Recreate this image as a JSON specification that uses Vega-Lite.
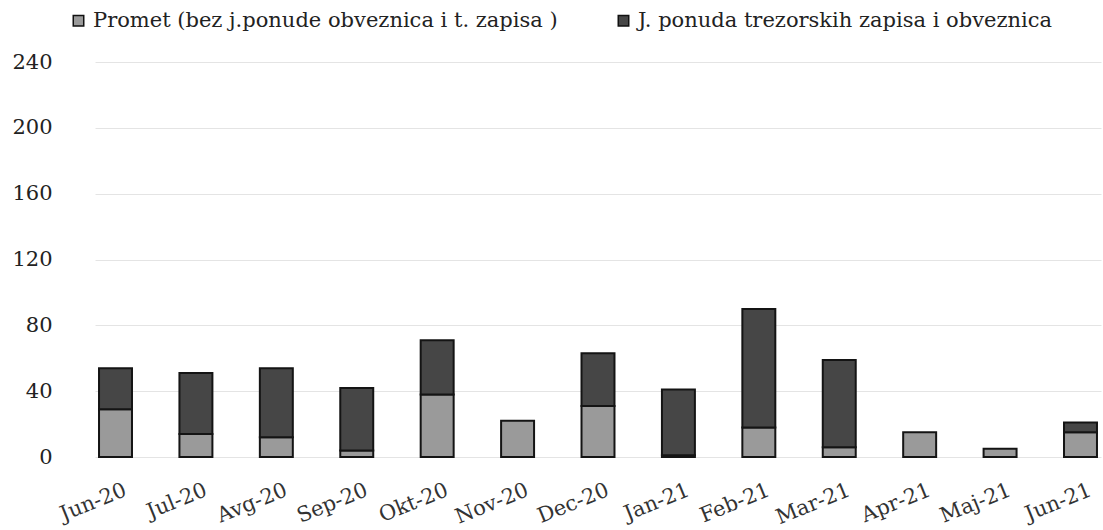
{
  "$schema": "https://vega.github.io/schema/vega-lite/v6.json",
  "autosize": {"type": "none"},
  "padding": {"left": 95, "top": 62, "right": 2, "bottom": 73},
  "width": 1006,
  "height": 395,
  "background": "white",
  "config": {
    "view": {"stroke": null},
    "font": "DejaVu Serif"
  },
  "data": {
    "values": [
      {"mjesec": "Jun-20", "serija": "Promet (bez j.ponude obveznica i t. zapisa )", "red": 1, "vrijednost": 29},
      {"mjesec": "Jun-20", "serija": "J. ponuda  trezorskih zapisa i obveznica", "red": 2, "vrijednost": 25},
      {"mjesec": "Jul-20", "serija": "Promet (bez j.ponude obveznica i t. zapisa )", "red": 1, "vrijednost": 14},
      {"mjesec": "Jul-20", "serija": "J. ponuda  trezorskih zapisa i obveznica", "red": 2, "vrijednost": 37},
      {"mjesec": "Avg-20", "serija": "Promet (bez j.ponude obveznica i t. zapisa )", "red": 1, "vrijednost": 12},
      {"mjesec": "Avg-20", "serija": "J. ponuda  trezorskih zapisa i obveznica", "red": 2, "vrijednost": 42},
      {"mjesec": "Sep-20", "serija": "Promet (bez j.ponude obveznica i t. zapisa )", "red": 1, "vrijednost": 4},
      {"mjesec": "Sep-20", "serija": "J. ponuda  trezorskih zapisa i obveznica", "red": 2, "vrijednost": 38},
      {"mjesec": "Okt-20", "serija": "Promet (bez j.ponude obveznica i t. zapisa )", "red": 1, "vrijednost": 38},
      {"mjesec": "Okt-20", "serija": "J. ponuda  trezorskih zapisa i obveznica", "red": 2, "vrijednost": 33},
      {"mjesec": "Nov-20", "serija": "Promet (bez j.ponude obveznica i t. zapisa )", "red": 1, "vrijednost": 22},
      {"mjesec": "Nov-20", "serija": "J. ponuda  trezorskih zapisa i obveznica", "red": 2, "vrijednost": 0},
      {"mjesec": "Dec-20", "serija": "Promet (bez j.ponude obveznica i t. zapisa )", "red": 1, "vrijednost": 31},
      {"mjesec": "Dec-20", "serija": "J. ponuda  trezorskih zapisa i obveznica", "red": 2, "vrijednost": 32},
      {"mjesec": "Jan-21", "serija": "Promet (bez j.ponude obveznica i t. zapisa )", "red": 1, "vrijednost": 1},
      {"mjesec": "Jan-21", "serija": "J. ponuda  trezorskih zapisa i obveznica", "red": 2, "vrijednost": 40},
      {"mjesec": "Feb-21", "serija": "Promet (bez j.ponude obveznica i t. zapisa )", "red": 1, "vrijednost": 18},
      {"mjesec": "Feb-21", "serija": "J. ponuda  trezorskih zapisa i obveznica", "red": 2, "vrijednost": 72},
      {"mjesec": "Mar-21", "serija": "Promet (bez j.ponude obveznica i t. zapisa )", "red": 1, "vrijednost": 6},
      {"mjesec": "Mar-21", "serija": "J. ponuda  trezorskih zapisa i obveznica", "red": 2, "vrijednost": 53},
      {"mjesec": "Apr-21", "serija": "Promet (bez j.ponude obveznica i t. zapisa )", "red": 1, "vrijednost": 15},
      {"mjesec": "Apr-21", "serija": "J. ponuda  trezorskih zapisa i obveznica", "red": 2, "vrijednost": 0},
      {"mjesec": "Maj-21", "serija": "Promet (bez j.ponude obveznica i t. zapisa )", "red": 1, "vrijednost": 5},
      {"mjesec": "Maj-21", "serija": "J. ponuda  trezorskih zapisa i obveznica", "red": 2, "vrijednost": 0},
      {"mjesec": "Jun-21", "serija": "Promet (bez j.ponude obveznica i t. zapisa )", "red": 1, "vrijednost": 15},
      {"mjesec": "Jun-21", "serija": "J. ponuda  trezorskih zapisa i obveznica", "red": 2, "vrijednost": 6}
    ]
  },
  "transform": [{"filter": "datum.vrijednost > 0"}],
  "mark": {"type": "bar", "stroke": "#141414", "strokeWidth": 2},
  "encoding": {
    "x": {
      "field": "mjesec",
      "type": "ordinal",
      "sort": null,
      "scale": {"paddingInner": 0.59, "paddingOuter": 0.05},
      "axis": {
        "title": null,
        "domain": false,
        "ticks": false,
        "labelAngle": -22,
        "labelAlign": "right",
        "labelBaseline": "top",
        "labelPadding": 22,
        "labelOffset": 6,
        "labelFontSize": 21,
        "labelColor": "#333333",
        "labelFont": "DejaVu Serif"
      }
    },
    "y": {
      "field": "vrijednost",
      "type": "quantitative",
      "stack": "zero",
      "scale": {"domain": [0, 240], "nice": false},
      "axis": {
        "title": null,
        "values": [0, 40, 80, 120, 160, 200, 240],
        "domain": false,
        "ticks": false,
        "labelPadding": 43,
        "labelFontSize": 21,
        "labelColor": "#222222",
        "labelFont": "DejaVu Serif",
        "gridColor": "#e4e4e4",
        "gridWidth": 1
      }
    },
    "color": {
      "field": "serija",
      "type": "nominal",
      "scale": {
        "domain": ["Promet (bez j.ponude obveznica i t. zapisa )", "J. ponuda  trezorskih zapisa i obveznica"],
        "range": ["#9a9a9a", "#464646"]
      },
      "legend": {
        "title": null,
        "orient": "none",
        "direction": "horizontal",
        "legendX": -27,
        "legendY": -52,
        "symbolType": "square",
        "symbolSize": 110,
        "symbolStrokeColor": "#111111",
        "symbolStrokeWidth": 1.5,
        "labelFontSize": 21,
        "labelFont": "DejaVu Serif",
        "labelColor": "#222222",
        "labelOffset": 4,
        "columnPadding": 55,
        "labelLimit": 600
      }
    },
    "order": {"field": "red", "type": "quantitative"}
  }
}
